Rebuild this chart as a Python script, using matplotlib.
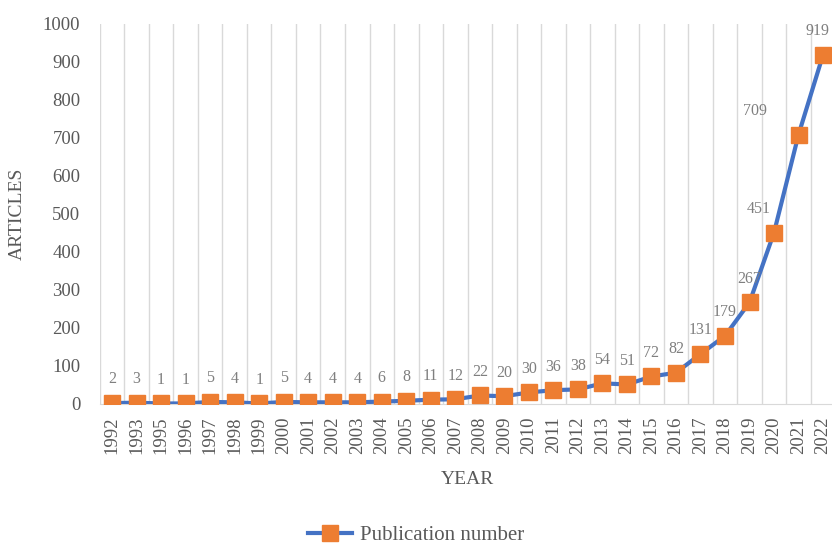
import matplotlib
matplotlib.use("Agg")
import matplotlib.pyplot as plt
import numpy as np

years = ["1992", "1993", "1995", "1996", "1997", "1998", "1999", "2000", "2001", "2002",
         "2003", "2004", "2005", "2006", "2007", "2008", "2009", "2010", "2011", "2012",
         "2013", "2014", "2015", "2016", "2017", "2018", "2019", "2020", "2021", "2022"]
articles = [2, 3, 1, 1, 5, 4, 1, 5, 4, 4,
            4, 6, 8, 11, 12, 22, 20, 30, 36, 38,
            54, 51, 72, 82, 131, 179, 267, 451, 709, 919]

plt.rcParams["font.family"] = ["Liberation Serif", "DejaVu Serif"]
text_color = "#595959"
label_color = "#7F7F7F"

fig = plt.figure(figsize=(8.32, 5.45), dpi=100)
ax = fig.add_axes([0.120, 0.259, 0.884, 0.697])

x = np.arange(len(years))
ax.plot(x, articles, color="#4472C4", linewidth=3, marker="s", markersize=11,
        markerfacecolor="#ED7D31", markeredgecolor="#ED7D31", label="Publication number",
        zorder=3)

# data labels sit above the points; the steep end gets nudged left off the line
nudge = {"2020": -11, "2021": -31, "2022": -4}
for xi, yr, v in zip(x, years, articles):
    ax.annotate(str(v), (xi, v), xytext=(nudge.get(yr, 0), 17), textcoords="offset points",
                ha="center", va="center", fontsize=11.5, color=label_color,
                annotation_clip=False)

ax.set_xlim(-0.5, len(years) - 0.5)
ax.set_ylim(0, 1000)
ax.set_yticks(np.arange(0, 1001, 100))
ax.set_xticks(x)
ax.set_xticklabels(years, rotation=90)
ax.set_xticks(np.arange(-0.5, len(years), 1), minor=True)
ax.grid(axis="x", which="minor", color="#D9D9D9", linewidth=1)
ax.tick_params(axis="both", which="both", length=0, labelsize=13.5, colors=text_color)
ax.tick_params(axis="x", pad=9)
ax.tick_params(axis="y", pad=14)
for side in ["top", "right", "left"]:
    ax.spines[side].set_visible(False)
ax.spines["bottom"].set_color("#D9D9D9")

ax.set_ylabel("ARTICLES", fontsize=14, color=text_color, labelpad=12)
ax.set_xlabel("YEAR", fontsize=14, color=text_color, labelpad=12)

fig.legend(loc="lower center", bbox_to_anchor=(0.5, -0.035), frameon=False,
           fontsize=15, handlelength=2.1, handletextpad=0.4, labelcolor=text_color)

fig.savefig("out.png", dpi=100)
